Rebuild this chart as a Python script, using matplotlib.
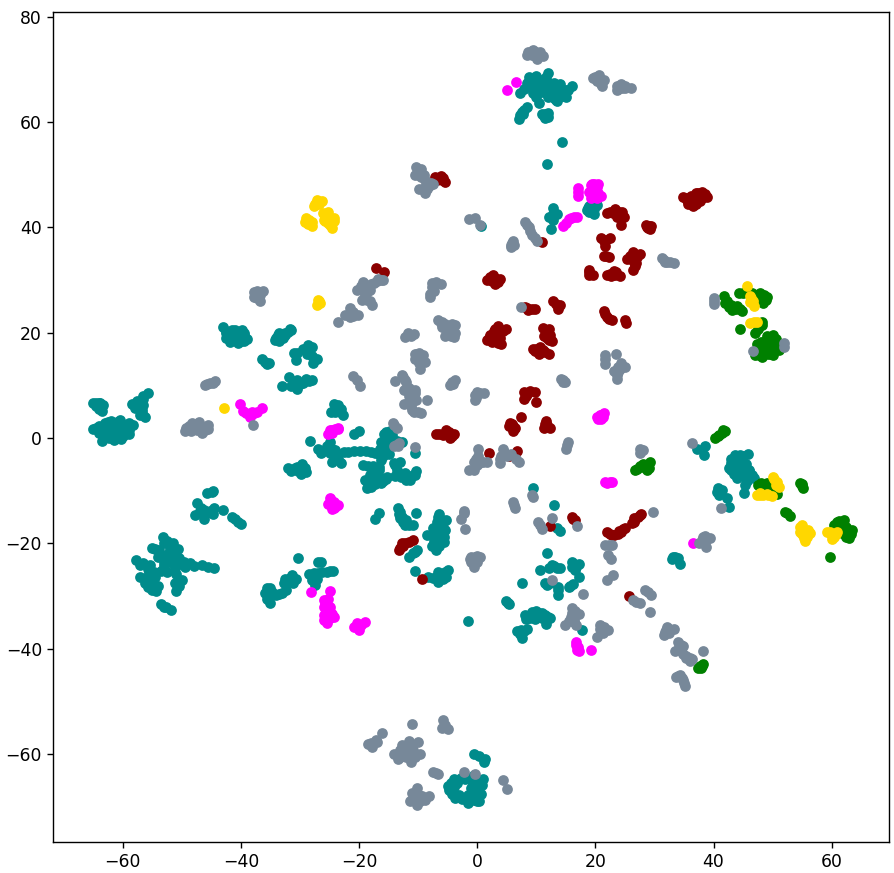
from matplotlib import pyplot as plt

# points, one list per colour
teal = [(8.8,68.6),(9.5,67.5),(10,68.8),(10.5,67),(11.3,66.5),(12,69.3),(12.2,67.5),(13,66.5),(13.5,65.5),(14,67.3),
        (14.3,65),(15,64.8),(15.3,66),(16,66.8),(13,64.5),(12.5,65.5),(11,65.8),(9.5,65.5),(10,64.8),(10.5,63.6),
        (7.2,65.5),(8,66.2),(7.5,62),(8.5,62.8),(7,60.5),(7.2,61.3),(11,61.5),(11.5,60.8),(12,61),(11.8,52),
        (14.3,56.2),(9,67),(10.8,68),(13.3,64.2),(15,66),
        (12.9,43.6),(12.2,42),(13.5,42.5),(12.8,41.5),(12.5,39.7),(18.5,43.3),(19,44),(19.7,43.5),(20.2,44.2),(19.8,42.6),(0.6,40.3),
        (-65,6.7),(-64.5,6),(-64,6.7),(-63.5,6),(-63.5,5.2),(-63.3,6.3),(-58.5,6.5),(-58,5.8),(-57.5,7),(-56.8,5.3),
        (-56.3,4),(-57,4.3),(-56.5,8),(-55.7,8.5),(-56.5,6.2),(-65,1.8),(-64,1),(-64,2.3),(-63,2.8),(-63,0.5),
        (-62.5,2),(-62,3.2),(-62,1),(-61,3),(-61,1.5),(-61,0.2),(-60,2.5),(-60,1),(-59,1.5),(-59,2.8),
        (-63.5,-0.5),(-61.5,-0.3),(-60.3,-0.2),(-58.3,2.5),(-60.5,3.5),(-63,1.5),
        (-43,21),(-42.5,20.3),(-42,20),(-41.7,18.8),(-41,19.8),(-40.5,18.5),(-40,20),(-39.5,19.5),(-39,18.8),(-40.5,18),
        (-41,18.7),(-39.8,20.5),(-41.5,20.5),(-42.5,19),
        (-34,19),(-33.5,18.5),(-33.5,20),(-33,19.7),(-32.5,20),(-31.7,20.7),(-32.8,19),(-31.5,20.5),
        (-36.5,15),(-36,14.5),(-35.5,14),(-35.2,14.2),
        (-31,16.2),(-30.5,16.2),(-30.7,14.8),(-29.5,17),(-28.7,17.7),(-28.8,16),(-28,15.5),(-27.2,15),(-27.8,14.3),(-28,17.3),
        (-31.8,11.5),(-33,9.9),(-31.5,9.8),(-30.5,9.3),(-30,10.2),(-29.5,10.5),(-29,11.3),(-28.5,10.8),(-28,11),(-30.5,11),
        (-24.2,6.4),(-23.5,6.3),(-23,5.5),(-24.8,5),(-24,5),(-22.7,4.3),(-23.2,5),
        (-28.3,-0.6),(-27,-2),(-26.1,-2.5),(-24.5,-4.5),(-23,-4.8),(-23.8,-3),(-25,-0.8),(-21.8,-2.6),(-19.8,-2.4),(-18,-2.6),
        (-16.6,-3),(-16.3,-0.7),(-15.7,0.7),(-14.8,1.4),(-14.2,-1),(-12.7,-0.7),(-16.3,-4.2),(-19.3,-5.1),(-17.7,-5.3),(-16.6,-6),
        (-19,-8),(-18.7,-9.5),(-17.3,-8.8),(-15.9,-8.2),(-15.3,-7.3),(-17.7,-7.2),(-13.9,-5.1),(-13,-4.5),(-13.9,-7.2),(-12.2,-6.7),
        (-11.4,-8),(-10.4,-6.3),(-10.5,-2.9),(-20.8,0.7),(-20,1.4),
        (-32,-5.7),(-30.8,-5.7),(-29.7,-5),(-29,-6.5),(-29.8,-6.8),
        (-44.7,-10),(-45.8,-10.5),(-47.4,-12.4),(-47.7,-14.6),(-46.2,-13.7),(-46.3,-15.4),(-44.6,-13.2),(-44.8,-14.4),(-43,-13.7),(-41,-15.4),(-39.9,-16.4),
        (-53.1,-18.8),(-57.7,-23.2),(-57,-24.1),(-55.3,-24.1),(-55,-20.8),(-53.9,-21.3),(-51.5,-20),(-50.6,-21),(-52.3,-22),(-52.3,-23.6),
        (-49.7,-23.5),(-48.6,-23.7),(-49.5,-24.5),(-51.2,-24.7),(-53.5,-25.3),(-57,-26.4),(-55.6,-25.7),(-56.2,-27.6),(-55,-28.9),(-54.1,-28),
        (-55.3,-26.7),(-51.2,-27.6),(-50,-27),(-51,-29),(-53.6,-31.5),(-52.7,-32),(-51.8,-32.6),(-46.5,-24.1),(-45.6,-24.4),(-44.5,-24.6),
        (-35.6,-28.5),(-36,-29.4),(-35,-31.4),(-34.1,-29.8),(-33,-29.4),(-32.4,-28.8),(-32.5,-26.7),(-31.4,-26),(-31.1,-27.6),(-30.3,-22.8),
        (-27,-23.5),(-28.4,-25.8),(-27,-25.7),(-27.5,-27.9),(-25.5,-25.4),(-24.4,-25.2),
        (-16.7,-14.3),(-17.3,-15.4),
        (-13.4,-13.3),(-13.1,-15.2),(-12.2,-16.5),(-10.8,-16.5),(-10.3,-14.2),
        (-6.6,-15),(-5.3,-15.5),(-7.4,-17),(-8.5,-18.4),(-6.8,-18.2),(-5.6,-19.8),(-7,-21.3),(-5.4,-17.5),(-6.5,-16.5),
        (-10.2,-21.3),(-11.6,-22.5),(-10.5,-25.2),(-8.3,-26.4),(-6.6,-27.4),(-4.9,-25),(-5.2,-26.3),(-6.6,-25.5),(-1.5,-34.7),
        (-5,-66),(-3.3,-65),(-2,-64.8),(-3.7,-68.4),(-0.6,-59.9),(1.4,-61),(0.5,-65),(-0.6,-66.5),(0,-69),(-1.2,-68.5),
        (0.8,-65.8),(-1.5,-69.3),(-4.2,-67.5),(-2.2,-64.6),(-1,-66.5),(-0.3,-65.8),(-1.5,-64.5),(-0.5,-64),
        (9.5,-9.5),(13,-12.7),(13.5,-17),(14,-17.6),(11.8,-21.8),(10.7,-25),(12.7,-24.1),(14,-24.7),(11.8,-27.9),(7.6,-27.5),
        (16,-23.5),(17.2,-24),(16.6,-25),(17.3,-26.4),(15.7,-28),(13.7,-28.9),(13.7,-29.8),(5.2,-31.3),(17.8,-36.5),
        (8.1,-33.6),(9.3,-33.1),(10,-32.8),(10.9,-33.2),(12,-34),(10,-34),(9,-34.2),(11.7,-35.3),
        (6.8,-36.7),(8.4,-36.3),(7.6,-38),
        (33.2,-22.5),(34,-22.8),(34.4,-23.9),
        (37.2,-2),(38.5,-1.5),(38.4,-3.2),
        (40.6,-10.3),(41.4,-9.9),(42.3,-11.3),(42.6,-13),
        (43.7,-3.2),(45.8,-3),(42.9,-4.8),(44.5,-4.8),(42.6,-5.7),(44,-7.5),(45.2,-6.3),(46.5,-7),(45.7,-8.2),(45.1,-10.4),(44,-5.5),(45.5,-5),(46,-6),
        # dense parts of the clusters
        (9.5,68.2),(10,66.5),(11,67.5),(11.7,68.5),(12.5,66.3),(13,67.5),(13.7,66.3),(14.5,66),(12,64.8),(13.5,64),
        (14.8,65.5),(8.5,67.5),(9.7,66.3),(10.8,66.5),(10,65.2),(7.8,61.5),(8,62.3),(11.3,61.2),(12,61.7),(11.5,61.6),
        (13,42.8),(12.8,42.6),(19,43),(18.8,43.7),(19.5,42.9),
        (-64.5,6.6),(-64,5.5),(-63.8,6.6),(-64.5,2),(-63.5,1.5),(-63,2),(-62.3,0),(-61.5,2.3),(-60.5,1.8),(-59.8,1.7),
        (-62.5,3),(-61.5,0.8),(-60,0.3),(-59,0.8),(-60.5,2.8),(-64,1.8),(-57,6),(-58,6.2),(-56.5,7.5),(-56.7,4.8),
        (-42,19.5),(-41.5,19.5),(-41,20.5),(-40.5,19.5),(-40,19),(-39.5,18.5),(-42.5,20),(-40,18.5),(-41,19),(-39.5,20),(-41.8,18.3),
        (-33.8,19.5),(-33.3,19.2),(-32.5,19.5),(-32,20.2),(-34.2,18.7),
        (-20.8,-2.5),(-18.9,-2.5),(-17.3,-2.8),(-16.5,-2),(-16,-1),(-15.5,0),(-15,-0.2),(-15.5,-2),(-15,-3),(-14.5,-0.5),
        (-16,-3.5),(-25.5,-1.5),(-26.5,-2.8),(-25,-2.8),(-24.5,-2),(-23.5,-4),(-24,-2.2),(-22.5,-2.6),(-15.5,1.2),(-13.5,-0.5),(-14.5,0.5),
        (-18.5,-8.5),(-18,-8),(-17.5,-8),(-17,-7.6),(-16.5,-7.5),(-16.2,-8.6),(-18,-9.2),(-16.7,-5.5),(-18.5,-5.3),(-17,-6.5),
        (-16.5,-8.3),(-15.5,-7.8),(-18.2,-7),(-14,-4.8),(-13.5,-6),(-12.9,-7.3),(-11.8,-7.4),(-10.8,-7),(-10.5,-7),(-12,-8),
        (-31.5,-6.2),(-30.3,-6.2),(-30.5,-5.5),(-29.2,-5.7),(-30,-6),
        (-46.8,-13.2),(-46,-14.5),(-45.3,-13.8),(-44.9,-10.3),(-47,-13.8),(-41.5,-15),(-40.5,-16),
        (-52.5,-19.5),(-53,-20),(-54.5,-21),(-52,-21),(-51.5,-21),(-53,-22.3),(-51.3,-22.8),(-53,-23.7),(-51.5,-23.7),(-50.5,-24),
        (-50.5,-22.8),(-56.5,-23.8),(-55.7,-24.8),(-56,-26.5),(-55,-27.5),(-55.8,-28.3),(-54.5,-26.3),(-54.3,-29),(-51,-25.8),(-50.5,-28),
        (-53,-32),(-54.7,-25.5),(-52.5,-25.5),(-53,-24.2),(-48,-24.2),(-54,-22.5),
        (-35.2,-29.8),(-35.5,-30.5),(-34.7,-29.3),(-35,-28.4),(-33.6,-29.7),(-32.7,-27.5),(-32,-27),(-31.7,-26.6),(-30.6,-26.7),
        (-27.7,-25.7),(-26.3,-25.5),(-27.2,-26.8),(-28,-27),(-25,-25.3),(-26.5,-23.5),
        (-13,-14),(-12.7,-15),(-12.5,-16),(-11.5,-16.5),(-13.3,-14.5),(-12,-15.5),
        (-6,-15.5),(-6.8,-16),(-6,-17),(-7,-17.5),(-6,-18.5),(-7.5,-18.3),(-5.8,-16.2),(-6.5,-19.5),(-5.7,-18.8),(-7.3,-19.5),(-6.5,-20.5),(-7.7,-20.5),(-6.5,-14.5),
        (-10.9,-21.9),(-10.6,-21.7),(-7.5,-26.5),(-5.5,-25.5),(-7,-26.3),(-5.8,-26.8),
        (-4.5,-65.5),(-4,-66.2),(-3.5,-65.5),(-2.8,-64.5),(-4,-64.8),(-3,-67.7),(-2.5,-68.5),(-1.5,-67.8),(-2,-68.3),(-0.5,-67.8),
        (0,-66),(1,-64.8),(0.3,-60.3),(1.2,-61.5),(-4.7,-66.8),(-1,-65),(0,-65),(0.7,-67.5),(-0.5,-68.8),(0.3,-68.9),
        (8.6,-33.8),(9.5,-34),(10.5,-33.3),(11.5,-33.6),(8.3,-34.3),(9.8,-34.3),(11,-34.2),(12.3,-34.2),
        (7.4,-36.5),(7.2,-37.2),(8,-36.7),(5.4,-31.5),(4.9,-31),
        (16.3,-24),(16,-24.5),(16.8,-24.4),(13,-24.3),(13.5,-24.6),(12.2,-24.6),(15.5,-28.2),(16.2,-27.8),(13.7,-28.2),(12.3,-27.5),(11.5,-27.5),
        (33.5,-22.5),(33.8,-23),(33,-23),(41,-10.8),(40.8,-9.5),
        (43,-4),(44,-3.5),(45,-3.5),(44.5,-3.2),(43.5,-5),(44,-6),(45,-5.5),(43,-6),(44.5,-7),(45,-7.2),(46,-7.5),(46.8,-7.6),(45.5,-7),(45.4,-9),(46,-6.2),(43.5,-6.8)]

darkred = [(-6.6,49.4),(-7.2,49.5),(-5.5,48.6),(-6.2,49.8),
           (-17.2,32.2),(-15.8,31.6),
           (34.9,45.8),(35.7,44.5),(36.5,44),(37,46.5),(38.1,46.8),(38.9,45.8),(37.7,45),(36.8,45),
           (21.9,42.8),(23.4,43.5),(24.5,43),(23.6,42),(24.8,42),(24.3,40.5),
           (28.7,40),(29.5,40.3),(29.2,39.7),(28.6,40.5),
           (21,38),(22.4,38),(21.7,36.5),(21.4,34.5),(22.3,34.3),
           (25.3,34),(26.3,35.3),(27.5,35),(26.9,33.2),(26.3,31.9),(26,34),
           (18.9,31.9),(18.9,31),(19.6,31),
           (21.9,30.9),(23.1,31.8),(24.2,30.7),(23.3,31),
           (1.6,30),(2.7,31),(3.9,30.2),(3,29.3),
           (8.1,24.9),(9.7,24.6),(8.6,24.3),
           (12.9,26),(14,25.2),(13.6,24.6),
           (21.5,24.1),(21.9,23),(22.8,22.4),(25.2,21.9),(25.1,22.4),
           (3.6,21.3),(4.9,20.8),(2.8,20.3),(1.7,18.6),(4.1,17.8),(2.9,18.7),(2.2,19.5),(3.9,19),
           (11.1,20.9),(12.2,20.7),(11.3,19.4),(12.7,18.4),(12.2,18.7),
           (9.5,17),(10.4,16),(12.1,16),(10.6,17.3),(11.2,16.8),
           (7.9,8.7),(9,9),(9.8,8.7),(7.9,7.5),(9.9,6.8),
           (7.4,4),(5.9,2.6),(5.3,2.3),(6.2,1.8),(11.7,3.2),(11.3,2),(12.4,2),
           (-5.4,0.9),(-6.5,0.7),(-4.6,0),(-4,0.8),(-5.2,1.5),(-7,0.7),
           (-13,-20.9),(-12.2,-20),(-10.8,-19.4),(-13.2,-21.3),(-9.3,-26.8),
           (2,-2.9),(6.7,-2.5),(5.3,-3.5),(6,1.3),
           (16,-15),(16.5,-15.5),(12.4,-16.7),
           (22,-17.8),(22.8,-18.5),(23.9,-18.3),(24.7,-17.3),(24.4,-17.8),(26.2,-16.2),(26.5,-15.2),(27.2,-14.9),(27.8,-14.4),(26.5,-16),(25.7,-30),
           (11,37.2),
           # dense parts of the clusters
           (-6.8,49),(-6,49),(-5.8,49.3),
           (35.5,45.2),(36,45.2),(36.2,46),(37.5,46),(38.3,46),(37,44.5),(35.3,45.6),(36.3,44.8),(38,45.5),(37.3,46.5),(38.5,46.4),
           (22.5,43),(23,42.7),(24,43),(24.4,42.3),(29,40.2),(28.9,39.8),(21.5,37.5),(21.8,37.7),(21.8,34.6),
           (25.8,34.5),(26,34.3),(26.5,34.7),(27,34.4),(26.5,33.5),(26.7,32.7),(26.5,34),(19,31.5),
           (22.5,31.2),(22.7,30.7),(23.5,31.5),(2.2,30.5),(3,30.3),(3.2,30),(2.5,29.8),(3.5,29.7),
           (8.5,24.7),(9.2,24.5),(13.3,25.5),(21.7,23.5),(22.3,22.6),
           (3,20.8),(3.4,20),(4.3,20.3),(2.3,19.5),(3.5,18),(2.5,18.3),(2,19),(3.6,18.5),
           (11.6,20.5),(12,20),(11.8,19),(12.3,18.9),(12.4,19.6),(9.8,16.6),(10,17),(10.8,16.4),(11.5,16.3),
           (8.4,8.3),(8.2,8),(6.4,2),(6,2.2),(5.5,2.9),(11.8,2.5),(11.5,2.6),
           (-5.8,0.6),(-5,0.5),(-4.8,1.2),(-4.3,0.3),(-12.5,-20.5),(-11.5,-19.7),(-12.7,-20),
           (23.2,-18.4),(24,-17.7),(22.4,-18.3),(26.6,-15.7),(25,-17),(27.5,-14.7),(16.2,-15.3)]

green = [(41.8,27),(41.9,25.6),(43,25.3),(43.1,24.3),(44.8,24.1),(44,25),(44.3,27.5),(47.9,27.5),(48.8,26.2),(48.3,25.6),
         (46.5,27.5),(48.2,22),(47.1,20),(44.4,20.7),(50.1,19.5),(48.7,18.4),(50.6,18.9),(47.3,17.8),(49.9,17.5),(48.2,15.4),
         (47,15.7),(49.8,16),(51,16.7),(49.5,18),(48,18.2),
         (41.6,1.5),(40.3,0.1),(41,0.6),(41.9,1.4),
         (26.7,-6.1),(27.5,-5.4),(28.7,-6),(29.3,-4.5),(28,-5),(28.7,-5.3),
         (47.6,-9),(49,-8.5),(50.7,-10.7),(49.5,-9.5),(54.7,-8.6),(55.2,-9.4),(52.1,-14),(52.9,-14.8),(52.5,-14.3),
         (60.9,-16),(62,-15.6),(60.6,-17),(63.4,-17.5),(63,-19),(62,-17),(61.5,-16.5),(62.2,-18.3),(59.7,-22.6),
         (37.7,-43.3),(38.3,-42.9),(37.4,-43.7),
         # dense parts of the clusters
         (42.3,26),(42.7,24.9),(43.8,24.5),(44.5,24.6),(45,27.6),(47.5,27),(48,26.8),(48.5,27.2),(49,26.7),(47.5,26),
         (48.2,21.5),(47.5,20.8),(49,19.3),(49.5,19),(50,18.2),(48.5,17.7),(48,17.6),(47.5,17.5),(48.6,16.8),(49.3,15.9),
         (50.3,16.5),(50.6,17.5),(48,16),(47.7,15.7),(50,17),(49,17.3),(50,15.8),
         (40.8,0.4),(41.4,1),(27,-5.8),(28,-5.5),(29,-5.6),(48,-8.5),(48.5,-9.2),(50.2,-10),(50,-9.3),(54.9,-8.8),(55,-9.1),
         (60.4,-16.5),(61.3,-15.8),(61,-16.7),(62.5,-16.8),(62.8,-17.5),(62.5,-18.7),(61.7,-18),(60.8,-17.5),(63.2,-18.2),(38,-43.3),(37.9,-43.7)]

gold = [(-27.1,45.2),(-26.2,45),(-27.7,44),(-29,41.8),(-29.1,41),(-28,40.3),(-26.1,42.7),(-25.2,42.4),(-24.3,41.8),(-25.8,41.2),(-24.6,39.9),(-25.2,40.8),
        (-26.9,26.2),(-27.1,25.3),(-26.7,26),
        (-42.8,5.7),
        (45.7,28.9),(46.2,27),(46.2,25.9),(46.9,25),(46.2,21.8),(47.3,22),
        (50,-7.3),(50.7,-8.3),(51,-9.3),(47.4,-10.8),(48.4,-10.9),(49.9,-11),(47.9,-10.8),
        (54.7,-16.9),(54.7,-17.8),(55.3,-18.6),(56.4,-18),(55.5,-19.5),(55.8,-17.8),(59.2,-17.8),(60,-19.2),(60.7,-18.2),(60,-18.2),
        # dense parts of the clusters
        (-26.8,44.5),(-27.4,44.5),(-28.5,41.4),(-28.6,40.7),(-28.8,41.4),(-25.7,42.3),(-25.5,41.7),(-24.8,41.4),(-24.9,40.5),(-24.3,41.2),
        (-25.3,42.9),(-26,41.5),(-28,41),(-26.6,25.6),(46.6,26),(46.4,26.5),(46.8,22),(50.3,-7.8),(50.5,-9),(47.8,-10.5),(49.3,-10.9),(49,-10.7),
        (54.8,-17.5),(55.2,-17.5),(55,-18.2),(55.8,-18.8),(56,-18.3),(55.3,-19),(54.9,-16.5),(56,-17.5),
        (60,-18.5),(59.8,-18.2),(60.4,-18.8),(59.7,-17.8),(60.9,-17.8)]

magenta = [(6.5,67.6),(5,66.1),
           (17.1,47.5),(17,46),(19.3,48),(20.4,48.3),(19.5,46.4),(20.9,46),(20.2,45.5),(20,47.3),(19.3,45.5),
           (14.6,40.2),(15.5,41.6),(16.9,42),(15.8,41.8),
           (21,4.4),(20.2,4),(21.5,4.8),(20.9,3.6),
           (-40.1,6.5),(-39.6,5.2),(-38.2,4.6),(-36.4,5.7),(-37.3,5),(-38.5,4),
           (-25.3,0.8),(-24,1.7),(-24.8,1.2),(-25,1.5),(-23.5,2),
           (-24.9,-11.4),(-25.2,-12.6),(-24.3,-13.2),(-23.5,-12.8),(-24.6,-12.3),
           (-28.1,-29.3),(-25,-29),(-26,-30.8),(-25,-32),(-26,-33.6),(-24.2,-34),(-25.5,-35.1),(-25,-33),
           (-20.3,-35.2),(-20,-36.4),(-19,-34.9),(-20.8,-35.8),
           (21.6,-8.4),(22.8,-8.3),
           (36.5,-19.9),
           (16.7,-38.8),(17,-39.6),(17.2,-40.5),(19.3,-40.3),
           # dense parts of the clusters
           (17,46.8),(19.2,47),(19.6,47.5),(20.3,47.7),(19.7,45.7),(20.4,46.6),(19,46.7),(20,46.8),(19.4,48.3),(19.8,48.2),
           (15,40.8),(16.3,41.9),(21.3,4),(20.7,4.4),(20.5,3.7),(-39.2,4.8),(-38.5,4.5),(-37.7,4.7),(-38.2,5),
           (-24.5,1.5),(-24.5,0.9),(-23.6,1.7),(-24.7,-12.8),(-24,-13),(-24.8,-11.8),(-24.2,-12.2),(-24.5,-13.4),
           (-25.7,-31.5),(-26,-32),(-25.3,-32.8),(-25.5,-33.5),(-25,-34.2),(-25.8,-34.5),(-24.7,-33.3),(-25.3,-34.3),(-24.5,-33.5),(-26,-34.5),(-25.3,-30.5),
           (-20,-35.5),(-19.6,-35.5),(22,-8.5),(22.4,-8.3),(16.8,-39.2),(16.9,-40.2)]

gray = [(8.6,73.3),(9.5,73.7),(10.6,73.3),(10.2,72),(9.3,72.8),(11.2,72.6),(8.4,72.8),
        (19.6,68.3),(20.6,69),(21.4,68),(21.2,66.8),(20.3,67.8),
        (23.7,66),(24.3,67.2),(26,66.5),(25,66.4),(23.7,66.8),
        (-10.3,51.5),(-10.5,50),(-9,50),(-9.7,50.6),(-8.8,46.5),(-7.4,48.2),(-8.2,47.8),(-9.8,47.2),(-8.5,47.2),
        (-1.4,41.6),(-0.3,41.8),(0.5,40.5),
        (-37.2,28),(-37.8,26.8),(-36.8,26.1),(-36.3,28),(-37.8,27.7),
        (-15.9,30),(-18,29.2),(-19.3,29.6),(-20.4,28.2),(-19,27.5),(-19.5,26.2),(-17.8,25.2),(-18.6,26.2),(-16.8,30.2),(-18.2,28.2),
        (-21.5,24.7),(-22.4,23.4),(-20.2,23.4),(-23.5,22),(-21.6,23),
        (-7.6,29.5),(-6.2,29.2),(-8,26.8),(-7.3,27.9),(-8,27.4),
        (-6.6,22.4),(-5.5,21.7),(-3.8,21.4),(-4.8,20.4),(-3.8,20),(-4,19.1),(-5.4,19.4),(-6.2,21.9),
        (-12.2,19.2),(-10.7,19.7),(-11.7,20),
        (-10.2,16),(-9.1,15.8),(-10.5,15),(-8.8,14.4),(-9.6,13.1),(-9.8,14.2),
        (-21,11.7),(-19.8,9.9),(-20.4,11),
        (-12.7,12),(-13.9,10.8),(-12,10.7),(-10.6,9.2),(-12.4,9.2),(-11.6,8),(-12.4,6.5),(-10.4,7.2),(-8.5,7.2),(-10.7,5),(-9.5,4.7),(-11.2,6),
        (-3.7,11),(-4.6,10),(-4.2,10.6),
        (-45.2,10.4),(-46,10),(-44.3,10.9),
        (-48.2,2.8),(-47.1,3.1),(-49.3,2),(-49.4,1.4),(-48,1.8),(-46.5,0.9),(-45.5,1.7),(-45.5,2.4),(-47,2),
        (-38,2.4),
        (-14.2,2.9),(-13.4,-1.6),(-14,-1.6),(-13.2,-1),(-10.5,-1.7),(-13.6,2),
        (-1.4,-6),(-2.3,-14.3),(-2.7,-15.4),(-2,-17.3),(-2.2,-13.8),
        (-1,-22.6),(-0.3,-22.6),(0.5,-22.5),(-0.6,-24.5),(-1,-23.5),(0,-23.5),
        (-11,-54.2),(-5.8,-53.5),(-6,-55),(-5,-55.3),(-16.1,-56),(-17.2,-57.4),(-18.4,-58),(-17.8,-58.6),
        (-12.7,-58.3),(-11.6,-57.6),(-10.1,-57.8),(-14,-60),(-13.4,-61),(-12,-59.5),(-11.2,-61.5),(-9.7,-60),(-10.8,-59.2),(-12.8,-60),
        (-7.4,-63.4),(-6.6,-63.8),
        (-10.2,-66.5),(-11,-67.4),(-8.2,-68),(-11.3,-69),(-10.2,-69.6),(-8.8,-68.8),(-9.3,-68),
        (-2.3,-63.4),(-0.3,-63.7),(4.4,-65),(5,-66.6),
        (8.1,41),(8.7,40),(9.3,38.5),(10.1,37.5),(5.9,37),(5.8,36.3),(6.1,37.4),
        (31.3,34.1),(32.1,33.5),(33.3,33.2),(31.8,33.5),
        (40,26.6),(40,25.4),
        (7.4,24.9),
        (46.7,16.5),(52,18),(52,17.2),
        (21.7,15.8),(23.5,16),(21.6,14),(24.3,14.2),(25,13.5),(23.2,12.7),(23.6,11.2),(23.8,13.5),
        (14.5,11),(14.8,10.6),(14.2,11.3),
        (-0.3,8.2),(1.2,8.6),(-0.3,7.2),(0,8.8),
        (15.4,-0.7),(15,-2),
        (27.6,-2),(27.6,-2.8),(28.1,-2.3),
        (36.4,-1),
        (0.2,-2),(0.2,-3.5),(1.6,-4.5),(-0.6,-6),(0.3,-4.8),(4.4,-2),(5.8,-3),(7.1,-4.6),(3.8,-4.8),(4.1,-3.5),
        (6.1,-12.2),(6.4,-13.3),(9.5,-11.2),(9.3,-10.9),
        (10.3,-16),(10.9,-17.3),(12.7,-15.2),(16.9,-16.7),
        (29.8,-14),
        (21.7,-20.4),(22.8,-20.3),(22.2,-22.2),(22.6,-23),(23,-26),(22,-27),
        (12.7,-27),(17.9,-29.7),
        (28.4,-28.9),(29.4,-29.8),(26.4,-30.8),(27.5,-31.4),(29.3,-33),
        (38.3,-18.7),(39.4,-19),(37.6,-20),(38.8,-20.6),
        (41.3,-13.2),
        (32.2,-35.9),(33.3,-36.2),(31.7,-37.3),(32.5,-37),
        (34,-38.8),(34.9,-39.4),(33.5,-40.4),(34.9,-41),(36,-42.3),(35.4,-41.7),(38.3,-40.4),
        (34.4,-45),(33.6,-45.4),(35.2,-47),(34.9,-46),
        (16.1,-32.3),(17.2,-33.5),(15.9,-34),(14.9,-35.5),(16.8,-35.5),(16.3,-34.5),
        (20.8,-35.5),(22.2,-36.4),(21.3,-37),(20.3,-37.8),(20.8,-36.3),
        # dense parts of the clusters
        (9,73),(10,73.3),(10.5,72.6),(9.8,72.5),(9.2,73.5),(20,68.5),(20.8,68),(20.9,67.3),(24.5,66.4),(25,66.9),(23.8,66.3),
        (-9.8,50),(-9.5,49.5),(-9.5,51),(-8,48),(-7.8,48.4),(-9,47.5),(-8.8,49),(-8.5,48.5),
        (-37,27.5),(-37.3,26.6),(-36.8,27.2),(-36.7,27.8),
        (-19,28.7),(-18.5,28),(-19.5,28.2),(-17.5,29.5),(-17,29.8),(-19,26.9),(-18.2,26),(-19.7,28.8),(-16.3,30),
        (-21,24),(-21.5,23.5),(-21,23.1),(-7,29.6),(-7.7,28.7),
        (-5.7,21.2),(-5,21.3),(-4.2,20.8),(-5.3,20.5),(-5,19.6),(-4.4,19.4),(-5.9,21),(-4.3,21.7),(-6,22),(-11.7,19.5),(-11.2,19.3),
        (-9.9,15.5),(-9.3,15.2),(-9.5,14.5),(-10.5,16),(-9.8,16.2),
        (-12.3,11),(-12.5,11.5),(-11.5,9.5),(-11.5,8.8),(-11,7.5),(-11.5,7),(-11,6.8),(-11,5.3),(-10,5),(-10.5,8.5),(-4.1,10.3),
        (-45.7,10.2),(-44.8,10.5),(-48.7,2.2),(-47.7,2.5),(-46.8,1.5),(-47.5,1.5),(-48.5,1.3),(-46,1.5),
        (-13.7,-1.3),(-14,2.4),(-1.3,-23),(0,-22.4),
        (-17,-57.8),(-18,-57.9),(-11,-58.5),(-12,-58.5),(-13,-59.3),(-12,-60.5),(-11,-60),(-13,-60.5),(-10.5,-60.5),(-11.5,-59),(-7,-63.6),
        (-9.8,-67.8),(-10.5,-68),(-9.7,-69),(-10.7,-68.8),(-5.5,-54.5),
        (8.4,40.5),(9,39.3),(9.7,38),(5.8,36.7),(6.2,36.6),(31.7,33.8),(32.7,33.4),(40,26),(21.6,15),(23.7,12),(23.9,12.6),(24.2,13.2),
        (14.5,10.6),(0.5,8.5),(-0.2,7.7),(15.2,-1.3),(27.8,-2.4),
        (0.5,-4.3),(1,-4.5),(-0.2,-4),(-0.6,-4.5),(0,-5.2),(4.5,-2.7),(5,-3.5),(6.5,-4),(3.8,-4),(4.5,-3.2),
        (6.2,-12.8),(10.6,-16.5),(22.3,-20.3),(38.5,-19.7),(38,-19.3),(38.5,-18.6),
        (32,-36.5),(32.5,-36.2),(31.8,-36.8),(34.5,-39.2),(34.2,-39.7),(34.5,-40.3),(35.3,-41.3),(36,-41.8),(36.4,-41.9),
        (34,-45.2),(34.7,-45.5),(35,-46.5),
        (16.5,-33.3),(16.6,-32.8),(16,-33.3),(15.5,-34.8),(16.4,-35),(21.5,-35.9),(21,-36.9),(21,-35.8),(28.9,-29.3),(26.9,-31.1)]

xticks = [-60, -40, -20, 0, 20, 40, 60]
yticks = [-60, -40, -20, 0, 20, 40, 60, 80]

groups = [(teal, 'darkcyan'), (darkred, 'darkred'), (green, 'green'),
          (gold, 'gold'), (magenta, 'magenta'), (gray, 'lightslategray')]

fig = plt.figure(figsize=(8.94, 8.73), dpi=100)
ax = fig.add_axes([53 / 894, 1 - 842 / 873, 836 / 894, 830 / 873])

for pts, col in groups:
    xs = [p[0] for p in pts]
    ys = [p[1] for p in pts]
    ax.scatter(xs, ys, c=col, s=60, linewidths=0)

ax.set_xlim(-71.8, 69.7)
ax.set_ylim(-76.7, 80.9)
ax.set_xticks(xticks)
ax.set_yticks(yticks)
ax.tick_params(labelsize=12.4, length=4.4, width=1.0)
for s in ax.spines.values():
    s.set_linewidth(1.0)

fig.savefig('out.png', dpi=100)
